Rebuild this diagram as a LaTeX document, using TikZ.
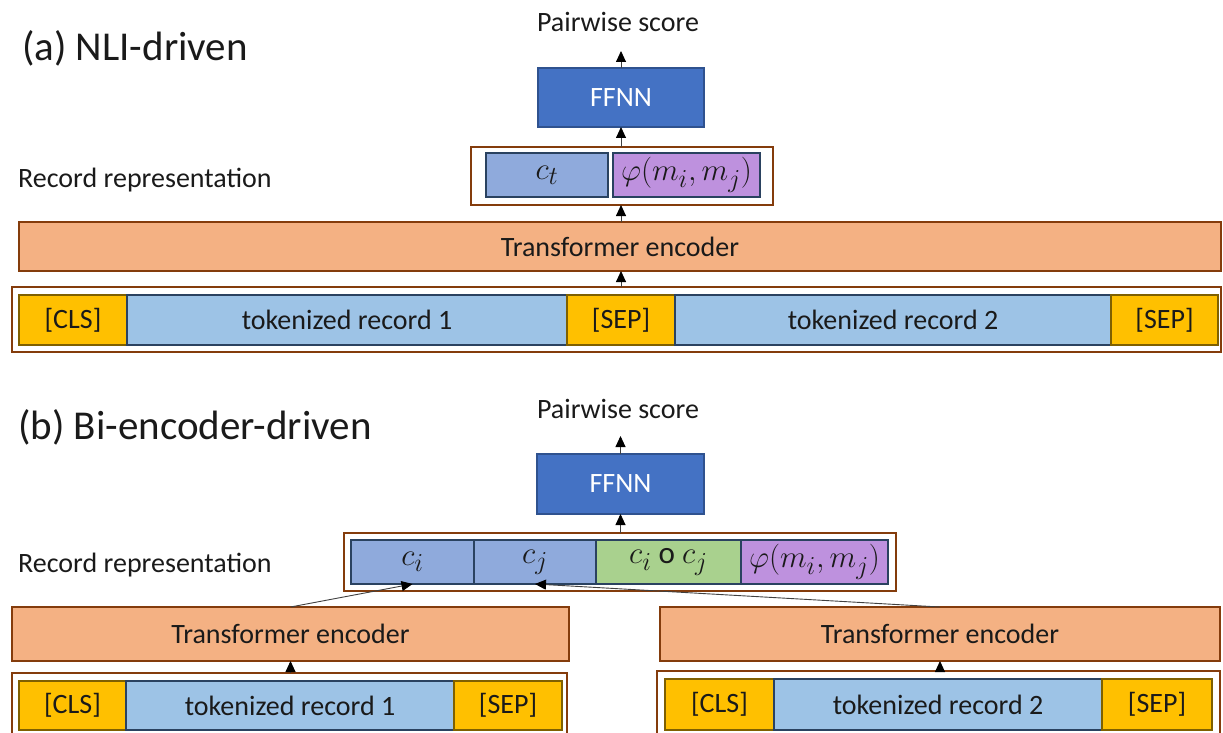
\documentclass[tikz,border=0pt]{standalone}
\usepackage{graphicx}
\usepackage{fontspec}
\setmainfont{Carlito}
\usetikzlibrary{arrows.meta,calc}
\definecolor{ffnn}{HTML}{4472C4}
\definecolor{ffnnb}{HTML}{2F528F}
\definecolor{cvec}{HTML}{8FAADC}
\definecolor{phic}{HTML}{BE91DE}
\definecolor{grn}{HTML}{A9D18E}
\definecolor{trans}{HTML}{F4B183}
\definecolor{brn}{HTML}{843C0C}
\definecolor{gold}{HTML}{FFC000}
\definecolor{goldb}{HTML}{7F6000}
\definecolor{tok}{HTML}{9DC3E6}
\definecolor{darkb}{HTML}{2A4260}
\definecolor{txt}{HTML}{1A1A1A}
\newcommand\rbox[7]{\node[#2, anchor=north west, minimum width={(#5)-(#3)}, minimum height={(#6)-(#4)}] (#1) at (#3,#4) {#7};}
\newcommand\mymath[1]{\scalebox{1.25}{$#1$}}
\tikzset{
  base/.style={inner sep=0pt, outer sep=0pt, line width=1.5pt, font=\fontsize{28}{32}\selectfont, text=txt},
  mathbox/.style={font=\fontsize{24.88}{28}\selectfont},
  ffnnbox/.style={base, fill=ffnn, draw=ffnnb, text=white},
  outerbox/.style={base, draw=brn, line width=2pt, fill=white},
  transbox/.style={base, fill=trans, draw=brn, line width=2pt},
  goldbox/.style={base, fill=gold, draw=goldb},
  tokbox/.style={base, fill=tok, draw=darkb},
  cbox/.style={base, mathbox, fill=cvec, draw=darkb},
  phibox/.style={base, mathbox, fill=phic, draw=darkb},
  grnbox/.style={base, mathbox, fill=grn, draw=darkb},
  lbl/.style={inner sep=0pt, font=\fontsize{28}{32}\selectfont, text=txt},
  ttl/.style={inner sep=0pt, font=\fontsize{41}{46}\selectfont, text=txt, anchor=west},
  arr/.style={draw=black!75, line width=0.9pt, -{Triangle[width=10pt,length=11pt,fill=black,color=black]}}
}
\begin{document}
\begin{tikzpicture}[x=1pt,y=-1pt]
\useasboundingbox (0,0) rectangle (1223,733);
\clip (0,0) rectangle (1223,733);
% ---------- (a) ----------
\node[ttl] (titleA) at (22,48) {(a) NLI-driven};
\node[lbl] (scoreA) at (618,22) {Pairwise score};
\node[lbl, anchor=west] (recA) at (18,180) {Record representation};
\rbox{ffnnA}{ffnnbox}{538}{68}{704}{127}{FFNN}
\rbox{repA}{outerbox}{471}{147}{773}{205}{}
\rbox{ct}{cbox}{486}{153}{608}{197}{\mymath{c_t}}
\rbox{phiA}{phibox}{613}{153}{760}{197}{\mymath{\varphi\bigl(m_i,m_j\bigr)}}
\rbox{transA}{transbox}{19}{222}{1221}{271}{Transformer encoder}
\rbox{tokA}{outerbox}{12}{287}{1221}{352}{}
\rbox{clsA}{goldbox}{19}{295}{127}{345}{[CLS]}
\rbox{recA1}{tokbox}{127}{295}{567}{345}{tokenized record 1}
\rbox{sepA1}{goldbox}{567}{295}{675}{345}{[SEP]}
\rbox{recA2}{tokbox}{675}{295}{1111}{345}{tokenized record 2}
\rbox{sepA2}{goldbox}{1111}{295}{1218}{345}{[SEP]}
\coordinate (topA) at (621,51);
\draw[arr] (ffnnA.north) -- (topA);
\draw[arr] (ffnnA.south |- repA.north) -- (ffnnA.south);
\draw[arr] (ffnnA.south |- transA.north) -- (ffnnA.south |- repA.south);
\draw[arr] (ffnnA.south |- tokA.north) -- (ffnnA.south |- transA.south);
% ---------- (b) ----------
\node[ttl] (titleB) at (18,427) {(b) Bi-encoder-driven};
\node[lbl] (scoreB) at (618,409) {Pairwise score};
\node[lbl, anchor=west] (recB) at (18,565) {Record representation};
\rbox{ffnnB}{ffnnbox}{537}{454}{704}{514}{FFNN}
\rbox{repB}{outerbox}{344}{533}{896}{591}{}
\rbox{ci}{cbox}{351}{540}{474}{584}{\mymath{c_i}}
\rbox{cj}{cbox}{474}{540}{596}{584}{\mymath{c_j}}
\rbox{cicj}{grnbox}{596}{540}{741}{584}{\mymath{c_i\ \mathrm{o}\ c_j}}
\rbox{phiB}{phibox}{741}{540}{888}{584}{\mymath{\varphi\bigl(m_i,m_j\bigr)}}
\rbox{ltrans}{transbox}{12}{607}{569}{661}{Transformer encoder}
\rbox{rtrans}{transbox}{660}{607}{1220}{661}{Transformer encoder}
\rbox{ltok}{outerbox}{12}{673}{567}{745}{}
\rbox{clsB1}{goldbox}{19}{681}{126}{730}{[CLS]}
\rbox{recB1}{tokbox}{126}{681}{454}{730}{tokenized record 1}
\rbox{sepB1}{goldbox}{454}{681}{562}{730}{[SEP]}
\rbox{rtok}{outerbox}{657}{671}{1220}{745}{}
\rbox{clsB2}{goldbox}{665}{679}{774}{730}{[CLS]}
\rbox{recB2}{tokbox}{774}{679}{1102}{730}{tokenized record 2}
\rbox{sepB2}{goldbox}{1102}{679}{1212}{730}{[SEP]}
\coordinate (topB) at (620.5,436);
\draw[arr] (ffnnB.north) -- (topB);
\draw[arr] (ffnnB.south |- repB.north) -- (ffnnB.south);
\draw[arr] (ltrans.north) -- (ci.south);
\draw[arr] (rtrans.north) -- (cj.south);
\draw[arr] (ltrans.south |- ltok.north) -- (ltrans.south);
\draw[arr] (rtrans.south |- rtok.north) -- (rtrans.south);
\end{tikzpicture}
\end{document}
